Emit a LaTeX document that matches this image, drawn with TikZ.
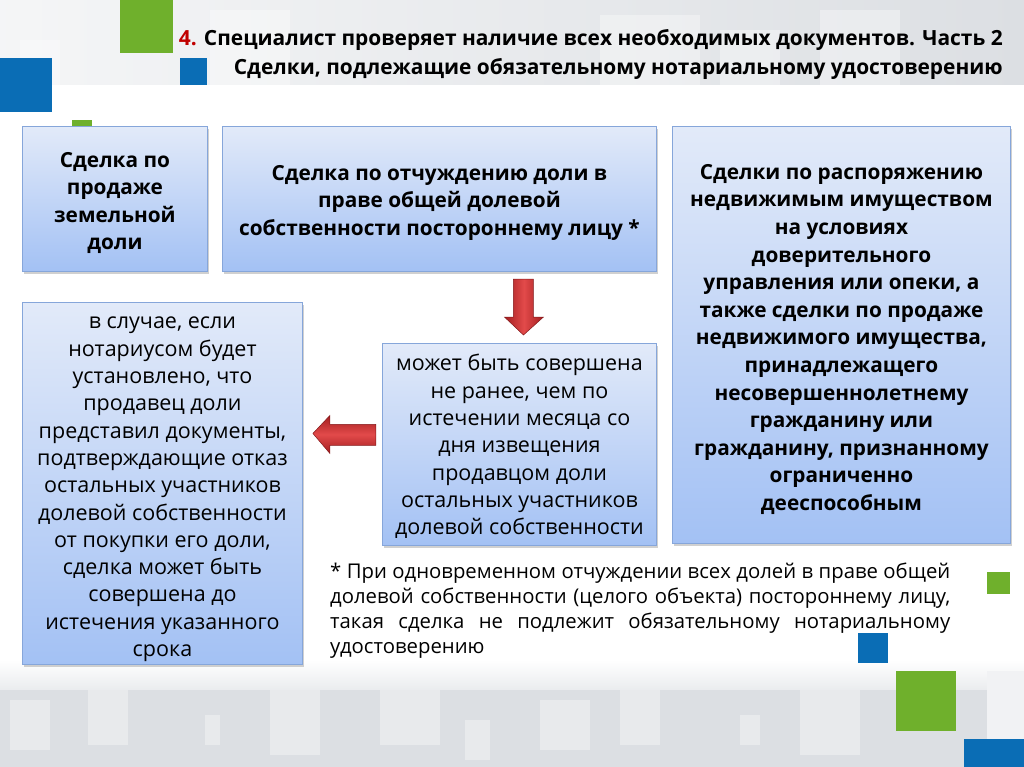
\documentclass[tikz,border=0pt]{standalone}
\usepackage{fontspec}
\setmainfont{Open Sans}
\usetikzlibrary{calc,shadows}
\definecolor{sqgreen}{HTML}{6FB02C}
\definecolor{sqblue}{HTML}{0A6DB5}
\definecolor{bandgray}{HTML}{DCDFE3}
\definecolor{boxtop}{HTML}{E2EAF9}
\definecolor{boxbot}{HTML}{A3C1F4}
\definecolor{boxline}{HTML}{86A6DA}
\definecolor{titred}{HTML}{C00000}
\definecolor{arrmid}{HTML}{E24A4A}
\definecolor{arredge}{HTML}{A41E20}
\tikzset{
  card/.style={draw=boxline, line width=0.9pt, top color=boxtop, bottom color=boxbot,
    drop shadow={shadow xshift=2pt, shadow yshift=-3pt, opacity=0.3, fill=black!60},
    anchor=north west, inner sep=0pt},
  boldtxt/.style={align=center, inner sep=0pt, font=\bfseries\fontsize{20.8}{27.6}\selectfont},
  regtxt/.style={align=center, inner sep=0pt, font=\fontsize{21.5}{27.3}\selectfont},
  faint/.style={fill=white, opacity=0.35, draw=none},
  redarrow/.style={draw=arredge!80!black, line width=0.5pt, left color=arredge, right color=arredge, middle color=arrmid}
}
\begin{document}
\begin{tikzpicture}[x=1pt,y=-1pt]
\useasboundingbox (0,0) rectangle (1024,767);
% background
\fill[white] (0,0) rectangle (1024,767);
\fill[left color=white!70!bandgray, right color=bandgray] (0,0) rectangle (1024,85);
\fill[faint] (20,40) rectangle (60,85);
\fill[faint] (210,10) rectangle (290,85);
\fill[faint] (600,15) rectangle (700,85);
\fill[faint] (720,30) rectangle (780,85);
\fill[faint] (820,10) rectangle (900,85);
\fill[top color=white, bottom color=bandgray!60] (0,660) rectangle (1024,690);
\fill[bandgray] (0,690) rectangle (1024,767);
\fill[faint] (10,700) rectangle (50,750);
\fill[faint] (88,690) rectangle (128,745);
\fill[faint] (205,715) rectangle (220,745);
\fill[faint] (270,690) rectangle (320,755);
\fill[faint] (380,690) rectangle (440,745);
\fill[faint] (465,720) rectangle (490,760);
\fill[faint] (540,700) rectangle (590,750);
\fill[faint] (620,690) rectangle (660,745);
\fill[faint] (740,715) rectangle (760,745);
\fill[faint] (800,690) rectangle (860,755);
\fill[white!60!bandgray] (987,671) rectangle (1024,767);
% squares
\fill[sqgreen] (120,0) rectangle (173,53);
\fill[sqblue] (0,58) rectangle (52,112);
\fill[sqblue] (180,58) rectangle (207,85);
\fill[sqgreen] (72,120) rectangle (92,132);
\fill[sqgreen] (987,572) rectangle (1010,594);
\fill[sqblue] (858,633) rectangle (888,663);
\fill[sqgreen] (896,671) rectangle (956,731);
\fill[sqblue] (964,739) rectangle (1024,767);
% title
\node[anchor=north east, align=right, inner sep=0pt, font=\bfseries\fontsize{20.9}{29}\selectfont] (title) at (1003,29)
  {\textcolor{titred}{4.} Специалист проверяет наличие всех необходимых документов. Часть 2\\
   Сделки, подлежащие обязательному нотариальному удостоверению};
% boxes
\node[card, minimum width=185pt, minimum height=145pt] (b1) at (22,126) {};
\node[boldtxt] (t1) at ($(b1.center)+(0,4)$) {Сделка по\\продаже\\земельной\\доли};
\node[card, minimum width=434pt, minimum height=145pt] (b2) at (222,126) {};
\node[boldtxt] (t2) at ($(b2.center)+(0,4)$) {Сделка по отчуждению доли в\\праве общей долевой\\собственности постороннему лицу *};
\node[card, minimum width=338pt, minimum height=417pt] (b3) at (672,126) {};
\node[boldtxt] (t3) at ($(b3.center)+(0,4.5)$)
  {Сделки по распоряжению\\недвижимым имуществом\\на условиях\\доверительного\\управления или опеки, а\\также сделки по продаже\\недвижимого имущества,\\принадлежащего\\несовершеннолетнему\\гражданину или\\гражданину, признанному\\ограниченно\\дееспособным};
\node[card, minimum width=280pt, minimum height=362pt] (b4) at (22,302) {};
\node[regtxt] (t4) at ($(b4.center)+(0,6)$)
  {в случае, если\\нотариусом будет\\установлено, что\\продавец доли\\представил документы,\\подтверждающие отказ\\остальных участников\\долевой собственности\\от покупки его доли,\\сделка может быть\\совершена до\\истечения указанного\\срока};
\node[card, minimum width=274pt, minimum height=202pt] (b5) at (382,343) {};
\node[regtxt] (t5) at ($(b5.center)+(0,2)$)
  {может быть совершена\\не ранее, чем по\\истечении месяца со\\дня извещения\\продавцом доли\\остальных участников\\долевой собственности};
% arrows
\coordinate (dtop) at ($(b5.north)+(4,-64)$);
\draw[redarrow] ($(dtop)+(-10,0)$) -- ($(dtop)+(10,0)$) -- ($(dtop)+(10,38)$) -- ($(dtop)+(20,38)$)
  -- ($(dtop)+(0,56)$) -- ($(dtop)+(-19,38)$) -- ($(dtop)+(-10,38)$) -- cycle;
\coordinate (ltip) at ($(b4.east)+(10,-50)$);
\draw[redarrow, top color=arredge, bottom color=arredge, middle color=arrmid] (ltip) -- ($(ltip)+(17,-18)$) -- ($(ltip)+(17,-9)$) -- ($(ltip)+(63,-9)$)
  -- ($(ltip)+(63,12)$) -- ($(ltip)+(17,12)$) -- ($(ltip)+(17,20)$) -- cycle;
% footnote
\node[anchor=north west, text width=620pt, align=justify, inner sep=0pt, font=\fontsize{20.3}{25}\selectfont] (fn) at (330,563)
  {* При одновременном отчуждении всех долей в праве общей\linebreak
   долевой собственности (целого объекта) постороннему лицу,\linebreak
   такая сделка не подлежит обязательному нотариальному\linebreak
   удостоверению};
\end{tikzpicture}
\end{document}
